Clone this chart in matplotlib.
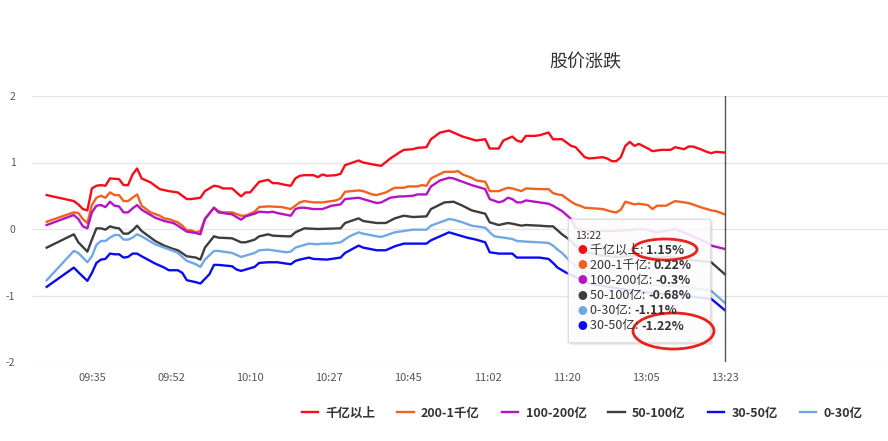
import matplotlib
matplotlib.use("Agg")
import matplotlib.pyplot as plt
from matplotlib.patches import Ellipse, FancyBboxPatch

plt.rcParams['font.family'] = ['Noto Sans CJK SC', 'DejaVu Sans']

# x = minute index from 09:25 (first point) to 13:22 (last point)
tick_pos = [10, 27.5, 45, 62.5, 80, 97.5, 115, 132.5, 150]
tick_labels = ["09:35", "09:52", "10:10", "10:27", "10:45", "11:02", "11:20", "13:05", "13:23"]

names = ["千亿以上", "200-1千亿", "100-200亿", "50-100亿", "30-50亿", "0-30亿"]
colors = ["#f70d1a", "#f0621e", "#b314c4", "#3d3d3d", "#0a0af5", "#6fa8e4"]

red_x = [0, 6, 7, 8, 9, 10, 11, 12, 13, 14, 16, 17, 18, 19, 20, 21, 23, 25, 27, 29, 31, 32, 34, 35,
         37, 38, 39, 41, 42, 43, 44, 45, 47, 49, 50, 51, 53, 54, 55, 56, 57, 59, 60, 61, 62, 64, 65,
         66, 69, 70, 73, 74, 76, 78, 79, 81, 82, 84, 85, 87, 89, 90, 92, 94, 95, 97, 98, 100, 101,
         103, 104, 105, 106, 108, 109, 111, 112, 114, 116, 117, 119, 120, 123, 124, 125, 126, 127,
         128, 129, 130, 131, 133, 134, 136, 138, 139, 141, 142, 143, 145, 146, 147, 148, 150]
red_y = [0.51, 0.42, 0.37, 0.30, 0.28, 0.61, 0.65, 0.66, 0.65, 0.76, 0.75, 0.66, 0.66, 0.82, 0.91,
         0.76, 0.70, 0.60, 0.57, 0.55, 0.45, 0.45, 0.47, 0.57, 0.65, 0.64, 0.61, 0.61, 0.55, 0.49,
         0.55, 0.55, 0.71, 0.74, 0.69, 0.69, 0.66, 0.65, 0.76, 0.80, 0.81, 0.81, 0.78, 0.82, 0.80,
         0.81, 0.83, 0.96, 1.03, 1.00, 0.96, 0.95, 1.06, 1.15, 1.19, 1.20, 1.22, 1.23, 1.35, 1.45,
         1.48, 1.45, 1.39, 1.35, 1.33, 1.35, 1.21, 1.21, 1.33, 1.39, 1.33, 1.31, 1.40, 1.40, 1.41,
         1.45, 1.35, 1.35, 1.25, 1.23, 1.08, 1.06, 1.08, 1.06, 1.02, 1.02, 1.08, 1.25, 1.31, 1.25,
         1.28, 1.21, 1.17, 1.19, 1.19, 1.23, 1.20, 1.24, 1.24, 1.19, 1.16, 1.14, 1.16, 1.15]

orange_x = [0, 6, 7, 8, 9, 10, 11, 12, 13, 14, 15, 16, 17, 18, 19, 20, 21, 23, 25, 26, 27, 29, 30,
            31, 32, 33, 34, 35, 37, 38, 39, 41, 43, 44, 46, 47, 49, 52, 54, 55, 56, 57, 59, 61, 64,
            65, 66, 69, 70, 72, 73, 75, 77, 79, 80, 82, 83, 84, 85, 88, 90, 91, 92, 94, 95, 97, 98,
            100, 102, 103, 105, 106, 109, 111, 112, 113, 114, 116, 117, 118, 119, 121, 123, 125,
            126, 127, 128, 130, 131, 133, 134, 135, 137, 139, 140, 142, 145, 147, 148, 150]
orange_y = [0.11, 0.25, 0.24, 0.15, 0.09, 0.36, 0.47, 0.50, 0.47, 0.55, 0.51, 0.51, 0.42, 0.42,
            0.47, 0.52, 0.35, 0.25, 0.20, 0.16, 0.15, 0.10, 0.05, -0.02, -0.02, -0.05, -0.03, 0.15,
            0.32, 0.27, 0.25, 0.25, 0.20, 0.20, 0.26, 0.33, 0.34, 0.33, 0.30, 0.35, 0.40, 0.42,
            0.40, 0.40, 0.43, 0.46, 0.56, 0.58, 0.57, 0.52, 0.51, 0.55, 0.62, 0.62, 0.64, 0.64,
            0.66, 0.65, 0.76, 0.86, 0.86, 0.87, 0.82, 0.77, 0.73, 0.71, 0.57, 0.57, 0.62, 0.61,
            0.57, 0.61, 0.60, 0.60, 0.54, 0.52, 0.51, 0.41, 0.37, 0.35, 0.32, 0.31, 0.30, 0.26,
            0.25, 0.29, 0.41, 0.37, 0.38, 0.36, 0.30, 0.35, 0.35, 0.42, 0.41, 0.39, 0.32, 0.28,
            0.27, 0.22]

purple_x = [0, 6, 7, 8, 9, 10, 11, 12, 13, 14, 15, 16, 17, 18, 19, 20, 21, 24, 26, 28, 29, 31, 33,
            34, 35, 37, 38, 41, 43, 44, 46, 47, 49, 50, 51, 54, 55, 56, 57, 59, 61, 63, 65, 66, 69,
            70, 73, 74, 76, 78, 79, 81, 82, 84, 85, 87, 89, 90, 92, 94, 95, 97, 98, 100, 101, 102,
            103, 104, 105, 106, 108, 111, 112, 114, 116, 117, 118, 120, 124, 128, 132, 135, 139,
            142, 146, 147, 150]
purple_y = [0.06, 0.21, 0.15, 0.04, 0.01, 0.25, 0.35, 0.36, 0.33, 0.41, 0.35, 0.34, 0.25, 0.25,
            0.31, 0.36, 0.29, 0.17, 0.12, 0.09, 0.05, -0.04, -0.06, -0.08, 0.15, 0.32, 0.25, 0.22,
            0.14, 0.19, 0.23, 0.26, 0.25, 0.26, 0.24, 0.20, 0.30, 0.32, 0.32, 0.30, 0.30, 0.35,
            0.37, 0.45, 0.47, 0.45, 0.39, 0.40, 0.47, 0.49, 0.49, 0.50, 0.52, 0.52, 0.64, 0.73,
            0.77, 0.76, 0.71, 0.66, 0.64, 0.60, 0.45, 0.40, 0.42, 0.47, 0.45, 0.40, 0.40, 0.43,
            0.41, 0.38, 0.35, 0.27, 0.15, 0.02, -0.01, -0.03, -0.03, -0.02, 0.00, -0.05, 0.00,
            -0.08, -0.20, -0.25, -0.30]

dark_x = [0, 6, 7, 9, 10, 11, 12, 13, 14, 15, 16, 17, 18, 19, 20, 21, 24, 26, 28, 29, 31, 33, 34,
          35, 37, 38, 41, 43, 44, 46, 47, 49, 50, 53, 54, 55, 56, 57, 60, 65, 66, 69, 70, 73, 75,
          77, 79, 81, 84, 85, 88, 90, 92, 94, 97, 98, 100, 102, 103, 105, 106, 109, 111, 112, 114,
          116, 117, 118, 120, 123, 126, 130, 134, 138, 142, 147, 150]
dark_y = [-0.28, -0.08, -0.20, -0.34, -0.16, 0.01, 0.01, -0.01, 0.04, 0.02, 0.01, -0.07, -0.07,
          -0.02, 0.05, -0.03, -0.18, -0.25, -0.30, -0.32, -0.41, -0.43, -0.46, -0.28, -0.11,
          -0.13, -0.14, -0.20, -0.20, -0.16, -0.11, -0.08, -0.10, -0.11, -0.11, -0.05, -0.02,
          0.01, 0.00, 0.01, 0.09, 0.16, 0.12, 0.09, 0.09, 0.16, 0.20, 0.18, 0.19, 0.30, 0.40,
          0.41, 0.35, 0.28, 0.23, 0.10, 0.06, 0.09, 0.08, 0.05, 0.06, 0.05, 0.04, 0.04, -0.08,
          -0.18, -0.25, -0.31, -0.36, -0.40, -0.42, -0.40, -0.43, -0.42, -0.46, -0.50, -0.68]

blue_x = [0, 6, 7, 9, 10, 11, 12, 13, 14, 15, 16, 17, 18, 19, 20, 21, 24, 26, 27, 29, 30, 31, 33,
          34, 36, 37, 38, 41, 42, 43, 46, 47, 49, 51, 53, 54, 55, 56, 58, 59, 62, 65, 66, 69, 70,
          73, 75, 77, 79, 84, 85, 89, 90, 93, 95, 97, 98, 100, 103, 104, 109, 111, 112, 113, 115,
          117, 120, 125, 130, 135, 140, 144, 147, 150]
blue_y = [-0.87, -0.58, -0.65, -0.78, -0.66, -0.51, -0.46, -0.45, -0.37, -0.38, -0.38, -0.43,
          -0.42, -0.37, -0.37, -0.41, -0.52, -0.58, -0.62, -0.62, -0.66, -0.77, -0.80, -0.82,
          -0.68, -0.54, -0.54, -0.56, -0.61, -0.63, -0.57, -0.51, -0.50, -0.50, -0.52, -0.53,
          -0.48, -0.46, -0.43, -0.45, -0.46, -0.43, -0.36, -0.25, -0.28, -0.32, -0.32, -0.26,
          -0.22, -0.22, -0.17, -0.05, -0.07, -0.13, -0.16, -0.20, -0.35, -0.37, -0.37, -0.43,
          -0.43, -0.45, -0.51, -0.58, -0.66, -0.72, -0.82, -0.88, -0.93, -0.97, -0.99, -1.03,
          -1.05, -1.22]

lblue_x = [0, 6, 7, 9, 10, 11, 12, 13, 14, 15, 16, 17, 18, 19, 20, 21, 24, 26, 28, 29, 31, 33, 34,
           35, 37, 38, 41, 43, 44, 46, 47, 49, 50, 53, 54, 55, 56, 58, 60, 61, 63, 65, 67, 69, 70,
           73, 74, 77, 79, 81, 84, 85, 89, 90, 92, 94, 97, 98, 99, 102, 103, 104, 106, 109, 111,
           112, 113, 114, 115, 116, 118, 121, 125, 130, 135, 140, 144, 147, 150]
lblue_y = [-0.77, -0.33, -0.36, -0.50, -0.41, -0.24, -0.18, -0.18, -0.13, -0.09, -0.09, -0.16,
           -0.16, -0.13, -0.08, -0.11, -0.23, -0.28, -0.33, -0.36, -0.48, -0.53, -0.57, -0.46,
           -0.33, -0.33, -0.36, -0.42, -0.40, -0.36, -0.32, -0.31, -0.32, -0.35, -0.34, -0.28,
           -0.26, -0.22, -0.23, -0.22, -0.22, -0.20, -0.11, -0.05, -0.07, -0.11, -0.12, -0.05,
           -0.03, -0.01, -0.01, 0.05, 0.15, 0.14, 0.10, 0.05, 0.02, -0.05, -0.11, -0.14, -0.15,
           -0.18, -0.19, -0.20, -0.21, -0.25, -0.31, -0.36, -0.43, -0.50, -0.60, -0.72, -0.78,
           -0.80, -0.85, -0.86, -0.90, -0.93, -1.11]

series_x = [red_x, orange_x, purple_x, dark_x, blue_x, lblue_x]
series_y = [red_y, orange_y, purple_y, dark_y, blue_y, lblue_y]

# tooltip at the cursor
tip_time = "13:22"
tip_order = ["千亿以上", "200-1千亿", "100-200亿", "50-100亿", "0-30亿", "30-50亿"]
tip_values = [1.15, 0.22, -0.3, -0.68, -1.11, -1.22]

W, H = 888, 441
fig = plt.figure(figsize=(W / 100, H / 100), dpi=100)
ax = fig.add_axes([32 / W, 1 - 362 / H, (888 - 32) / W, (362 - 96) / H])

lines = []
for x, y, c, n in zip(series_x, series_y, colors, names):
    ln, = ax.plot(x, y, color=c, lw=1.7, label=n, solid_joinstyle='round')
    lines.append(ln)

ax.set_xlim(-3.25, 186.1)
ax.set_ylim(-2, 2)
ax.set_yticks([-2, -1, 0, 1, 2])
ax.set_yticklabels(["-2", "-1", "0", "1", "2"])
ax.set_xticks(tick_pos)
ax.set_xticklabels(tick_labels)
ax.tick_params(axis='y', length=0, pad=12, labelsize=7.5, labelcolor='#555555')
ax.tick_params(axis='x', length=0, pad=8, labelsize=8, labelcolor='#555555')
ax.grid(axis='y', color='#e6e6e6', lw=1)
ax.set_axisbelow(True)
for s in ax.spines.values():
    s.set_visible(False)

# cursor line
ax.axvline(150, color='#555555', lw=1)

fig.text(585 / W, 1 - 62 / H, "股价涨跌", ha='center', va='center', fontsize=13, color='#333333')

fig.legend(handles=lines, loc='center', bbox_to_anchor=(582 / W, 1 - 413 / H), ncol=6,
           frameon=False, prop={'size': 9, 'weight': 'bold'}, handlelength=1.3,
           handletextpad=0.6, columnspacing=1.75, labelcolor='#333333')

# tooltip box
shadow = FancyBboxPatch((572 / W, 1 - 344 / H), 139 / W, 122 / H, boxstyle="round,pad=0.002",
                        transform=fig.transFigure, facecolor='#000000', alpha=0.08, lw=0)
box = FancyBboxPatch((570 / W, 1 - 342 / H), 139 / W, 122 / H, boxstyle="round,pad=0.002",
                     transform=fig.transFigure, facecolor='white', alpha=0.88,
                     edgecolor='#d0d0d0', lw=0.8)
fig.patches.extend([shadow, box])
fig.text(575 / W, 1 - 236 / H, tip_time, fontsize=7.5, color='#333333', va='center')

fig.canvas.draw()
renderer = fig.canvas.get_renderer()
color_of = dict(zip(names, colors))
for i, (n, v) in enumerate(zip(tip_order, tip_values)):
    yy = 1 - (250 + i * 15.2) / H
    fig.text(582 / W, yy, "●", fontsize=7, color=color_of[n], ha='center', va='center')
    t = fig.text(590 / W, yy, n + ": ", fontsize=9, color='#333333', va='center')
    bb = t.get_window_extent(renderer)
    fig.text(bb.x1 / W, yy, "%g%%" % v, fontsize=9, color='#333333', va='center',
             weight='bold')

# hand-drawn highlight ellipses
for cx, cy, ew, eh in [(665, 249.5, 64, 21), (673.5, 331, 81, 36)]:
    fig.patches.append(Ellipse((cx / W, 1 - cy / H), ew / W, eh / H, transform=fig.transFigure,
                               fill=False, edgecolor='#e8231b', lw=2))

fig.savefig("out.png", dpi=100)
